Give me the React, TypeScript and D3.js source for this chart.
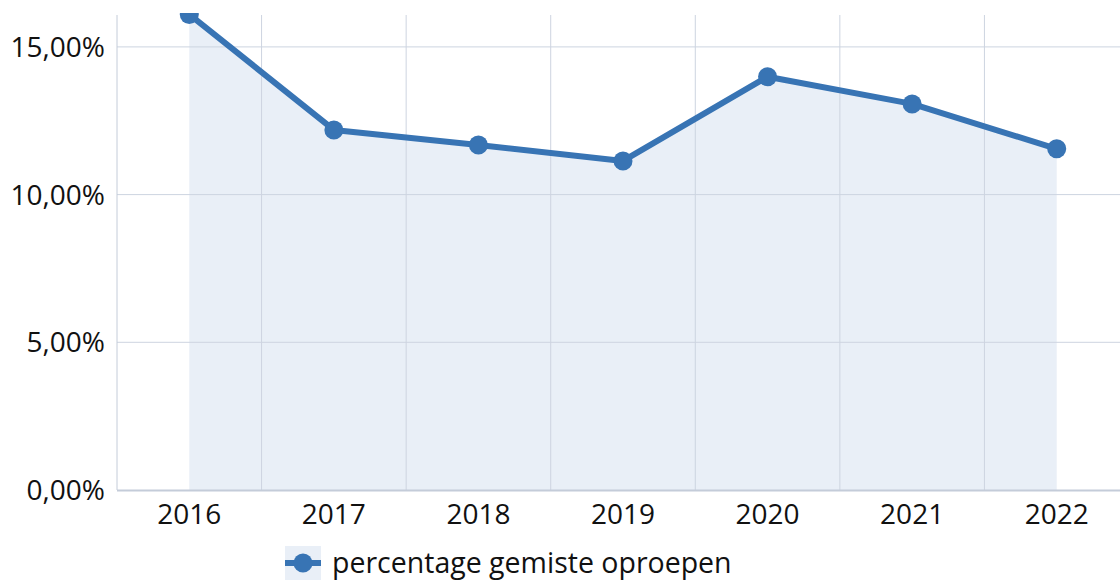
import { useEffect, useRef } from "react";
import * as d3 from "d3";

const years = ["2016", "2017", "2018", "2019", "2020", "2021", "2022"];
const missedPct = [16.1, 12.19, 11.68, 11.14, 13.99, 13.07, 11.55];
const yTicks = [0, 5, 10, 15];
const seriesName = "percentage gemiste oproepen";

export default function App() {
  const ref = useRef<SVGSVGElement>(null);

  useEffect(() => {
    if (!ref.current) return;
    const width = 1120;
    const height = 581;
    const margin = { top: 15, left: 117, bottom: 91 };
    const plotRight = 1129;

    const svg = d3.select(ref.current);
    svg.selectAll("*").remove();

    const x = d3.scaleBand().domain(years).range([margin.left, plotRight]);
    const y = d3.scaleLinear().domain([0, 16.08]).range([height - margin.bottom, margin.top]);
    const cx = (d: string) => x(d)! + x.bandwidth() / 2;
    const y0 = y(0);

    const font = "'Open Sans', sans-serif";
    const gridColor = "#cdd4e0";
    const lineColor = "#3874b4";
    const textColor = "#111";

    svg.append("defs").append("clipPath").attr("id", "plotclip")
      .append("rect").attr("x", 0).attr("y", 13).attr("width", width).attr("height", height);

    // area under the line
    const pts = years.map((d, i) => [cx(d), y(missedPct[i])] as [number, number]);
    const area = d3.area<[number, number]>().x((d) => d[0]).y0(y0).y1((d) => d[1]);
    svg.append("path").attr("d", area(pts)!).attr("fill", "#e9eff7");

    // horizontal grid
    svg.append("g").selectAll("line").data(yTicks.slice(1)).enter().append("line")
      .attr("x1", margin.left).attr("x2", width)
      .attr("y1", (d) => y(d)).attr("y2", (d) => y(d))
      .attr("stroke", gridColor).attr("stroke-width", 1);

    // vertical grid on band edges
    svg.append("g").selectAll("line").data(years.slice(1)).enter().append("line")
      .attr("x1", (d) => x(d)!).attr("x2", (d) => x(d)!)
      .attr("y1", margin.top).attr("y2", y0)
      .attr("stroke", gridColor).attr("stroke-width", 1);

    // axis lines
    svg.append("line").attr("x1", margin.left).attr("x2", margin.left)
      .attr("y1", margin.top).attr("y2", y0).attr("stroke", "#c4ccd9");
    svg.append("line").attr("x1", margin.left).attr("x2", width)
      .attr("y1", y0 + 0.5).attr("y2", y0 + 0.5).attr("stroke", "#c4ccd9").attr("stroke-width", 2);

    svg.append("g").selectAll("text").data(yTicks).enter().append("text")
      .attr("x", 105).attr("y", (d) => y(d)).attr("dy", "0.36em")
      .attr("text-anchor", "end").attr("font-family", font).attr("font-size", 28)
      .attr("fill", textColor)
      .text((d) => d.toFixed(2).replace(".", ",") + "%");

    svg.append("g").selectAll("text").data(years).enter().append("text")
      .attr("x", (d) => cx(d)).attr("y", 524)
      .attr("text-anchor", "middle").attr("font-family", font).attr("font-size", 28)
      .attr("fill", textColor)
      .text((d) => d);

    const g = svg.append("g").attr("clip-path", "url(#plotclip)");
    g.append("path").attr("d", d3.line()(pts)!).attr("fill", "none")
      .attr("stroke", lineColor).attr("stroke-width", 6).attr("stroke-linejoin", "round");
    g.selectAll("circle").data(pts).enter().append("circle")
      .attr("cx", (d) => d[0]).attr("cy", (d) => d[1]).attr("r", 9.5)
      .attr("fill", lineColor);

    // legend
    const lg = svg.append("g").attr("transform", "translate(285,546)");
    lg.append("rect").attr("width", 36).attr("height", 34).attr("fill", "#e9eff7");
    lg.append("line").attr("x1", 0).attr("x2", 36).attr("y1", 17).attr("y2", 17)
      .attr("stroke", lineColor).attr("stroke-width", 6);
    lg.append("circle").attr("cx", 18).attr("cy", 17).attr("r", 9.5).attr("fill", lineColor);
    lg.append("text").attr("x", 47).attr("y", 17).attr("dy", "0.36em")
      .attr("font-family", font).attr("font-size", 28.5).attr("fill", textColor)
      .text(seriesName);
  }, []);

  return (
    <svg ref={ref} width={1120} height={581}
      style={{ position: "absolute", left: 0, top: 0, background: "#fff" }} />
  );
}
